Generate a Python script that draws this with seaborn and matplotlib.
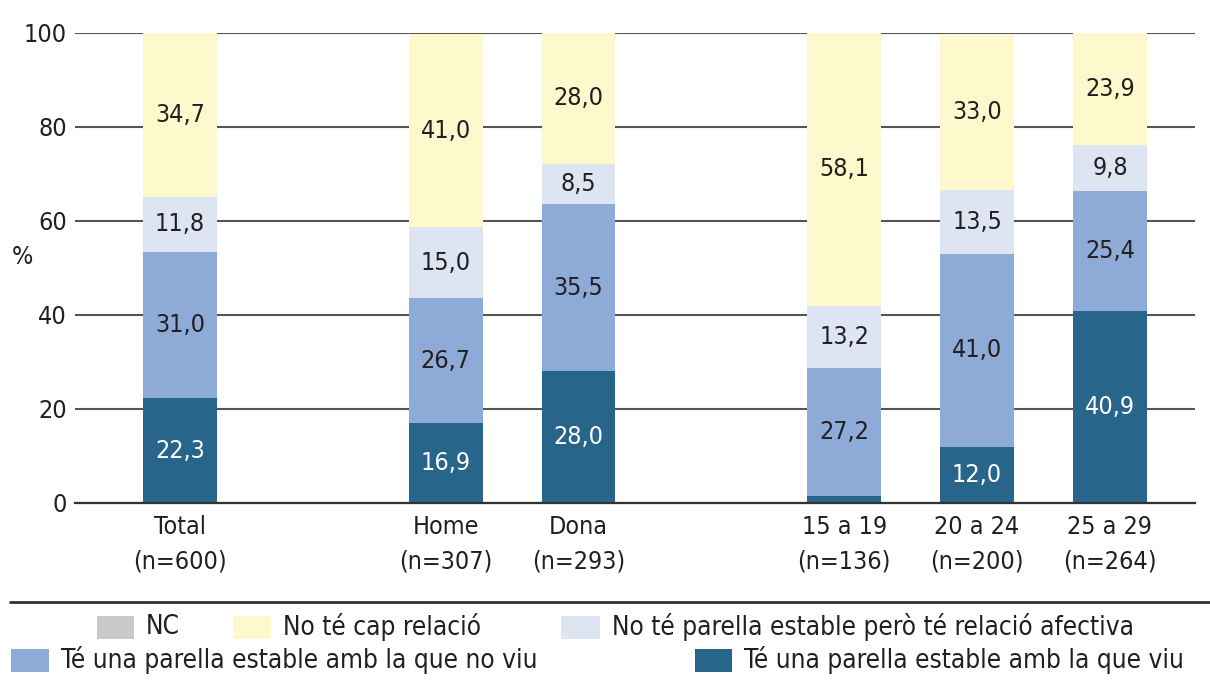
import matplotlib
matplotlib.use("Agg")
import matplotlib.pyplot as plt
from matplotlib.patches import Rectangle
from matplotlib.lines import Line2D
from matplotlib import font_manager
import seaborn as sns
import numpy as np
import pandas as pd

# ---- data ----
groups = ["Total\n(n=600)", "Home\n(n=307)", "Dona\n(n=293)",
          "15 a 19\n(n=136)", "20 a 24\n(n=200)", "25 a 29\n(n=264)"]
viu = [22.3, 16.9, 28.0, 1.5, 12.0, 40.9]          # Té una parella estable amb la que viu
no_viu = [31.0, 26.7, 35.5, 27.2, 41.0, 25.4]      # Té una parella estable amb la que no viu
afectiva = [11.8, 15.0, 8.5, 13.2, 13.5, 9.8]      # No té parella estable però té relació afectiva
no_cap = [34.7, 41.0, 28.0, 58.1, 33.0, 23.9]      # No té cap relació
legend_labels = ["NC", "No té cap relació", "No té parella estable però té relació afectiva",
                 "Té una parella estable amb la que no viu", "Té una parella estable amb la que viu"]
yticks = [0, 20, 40, 60, 80, 100]

# ---- layout / style ----
positions = [0, 2, 3, 5, 6, 7]
colors = {"nc": "#C8C9CB", "no_cap": "#FEF9CC", "afectiva": "#DDE5F3",
          "no_viu": "#8EAAD6", "viu": "#27658A"}

sns.set_theme(style="white")

# pick a condensed/narrow font if one is installed
fp_file = None
for f in font_manager.fontManager.ttflist:
    fn = f.fname.lower()
    if "liberationsansnarrow-regular" in fn:
        fp_file = f.fname
        break
if fp_file is None:
    for f in font_manager.fontManager.ttflist:
        fn = f.fname.lower()
        if "dejavusanscondensed.ttf" in fn:
            fp_file = f.fname
            break
if fp_file is not None:
    font_manager.fontManager.addfont(fp_file)
    fam_name = font_manager.FontProperties(fname=fp_file).get_name()
    plt.rcParams["font.family"] = [fam_name, "DejaVu Sans"]
    if "condensed" in fp_file.lower():
        plt.rcParams["font.stretch"] = "condensed"
else:
    plt.rcParams["font.family"] = ["DejaVu Sans"]

TXT = "#231F20"
FS = 18
FS_LEG = 18.8

W, H = 1210, 681
fig = plt.figure(figsize=(W / 100, H / 100), dpi=100)
ax = fig.add_axes([75 / W, 1 - 503 / H, 1120 / W, 470.5 / H])

df = pd.DataFrame({"pos": positions, "viu": viu, "no_viu": no_viu,
                   "afectiva": afectiva, "no_cap": no_cap})
df["c1"] = df["viu"]
df["c2"] = df["c1"] + df["no_viu"]
df["c3"] = df["c2"] + df["afectiva"]
df["c4"] = df["c3"] + df["no_cap"]

for col, key in [("c4", "no_cap"), ("c3", "afectiva"), ("c2", "no_viu"), ("c1", "viu")]:
    sns.barplot(data=df, x="pos", y=col, native_scale=True, color=colors[key],
                saturation=1, width=0.556, errorbar=None, ax=ax, zorder=3,
                linewidth=0, edgecolor="none")

# value labels
for i, p in enumerate(positions):
    bottoms = [0, df.c1[i], df.c2[i], df.c3[i]]
    vals = [viu[i], no_viu[i], afectiva[i], no_cap[i]]
    for j, (b, v) in enumerate(zip(bottoms, vals)):
        if v < 5:
            continue
        ax.text(p, b + v / 2, f"{v:.1f}".replace(".", ","), ha="center", va="center",
                fontsize=FS, color="white" if j == 0 else TXT, zorder=5)

ax.set_xlim(-0.789, 7.64)
ax.set_ylim(0, 100)
ax.set_yticks(yticks)
ax.set_yticklabels([str(t) for t in yticks], fontsize=FS, color=TXT)
ax.set_xticks(positions)
ax.set_xticklabels(groups, fontsize=FS, color=TXT, linespacing=1.5)
ax.tick_params(axis="both", length=0)
ax.tick_params(axis="y", pad=6)
ax.tick_params(axis="x", pad=9)
ax.set_xlabel("")
ax.set_ylabel("")
ax.yaxis.grid(True, color="#555555", linewidth=1.5, zorder=0)
ax.set_axisbelow(True)
for s in ["top", "right", "left"]:
    ax.spines[s].set_visible(False)
ax.spines["bottom"].set_color("#333333")
ax.spines["bottom"].set_linewidth(1.6)
ax.spines["bottom"].set_zorder(4)

fig.text(22 / W, 1 - 257 / H, "%", fontsize=FS, color=TXT, ha="center", va="center")

# separator line
fig.add_artist(Line2D([10 / W, 1.0], [1 - 602 / H, 1 - 602 / H], color="#333333",
                      linewidth=2, transform=fig.transFigure))

# manual legend
def swatch(x0, x1, yc, color, label):
    h = 23
    fig.add_artist(Rectangle((x0 / W, 1 - (yc + h / 2) / H), (x1 - x0) / W, h / H,
                             facecolor=color, edgecolor="none", transform=fig.transFigure))
    fig.text((x1 + 12) / W, 1 - yc / H, label, fontsize=FS_LEG, color=TXT,
             ha="left", va="center")

swatch(97, 134, 627, colors["nc"], legend_labels[0])
swatch(233, 271, 627, colors["no_cap"], legend_labels[1])
swatch(561, 600, 627, colors["afectiva"], legend_labels[2])
swatch(11, 49, 660, colors["no_viu"], legend_labels[3])
swatch(695, 732, 660, colors["viu"], legend_labels[4])

fig.savefig("out.png", dpi=100)
